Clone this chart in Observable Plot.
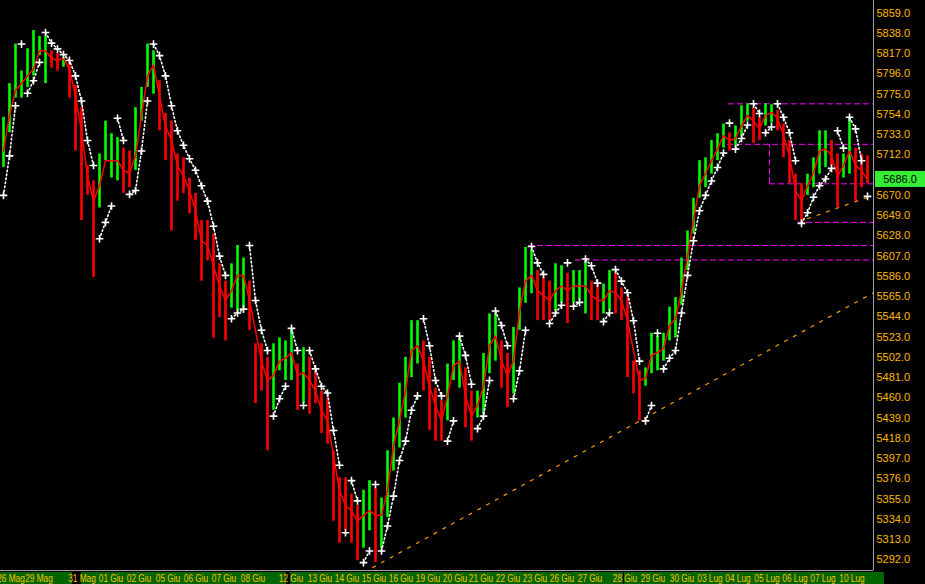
<!DOCTYPE html>
<html><head><meta charset="utf-8">
<script src="https://cdn.jsdelivr.net/npm/d3@7"></script>
<script src="https://cdn.jsdelivr.net/npm/@observablehq/plot@0.6"></script>
<style>
html,body{margin:0;padding:0;background:#000;}
#chart{width:925px;height:584px;overflow:hidden;background:#000;}
</style></head><body><div id="chart"></div>
<script>
// ---- data (prices, one entry per ~6px slot) ----
const highs = [5751,5786,5827,5799,5822,5841,5835,5835,5820,5818,
5813,5808,5784,5761,5701,5685,5713,5747,5734,5730,
5719,5716,5761,5782,5827,5820,5789,5755,5747,5713,
5709,5688,5672,5644,5644,5630,5599,5581,5599,5618,
5605,5581,5516,5516,5502,5516,5522,5519,5530,5495,
5512,5502,5488,5467,5460,5405,5377,5377,5360,5348,
5364,5374,5366,5356,5405,5439,5475,5502,5540,5540,
5519,5502,5470,5457,5495,5519,5522,5491,5467,5467,
5506,5547,5547,5519,5506,5533,5574,5616,5613,5592,
5585,5581,5599,5597,5589,5592,5592,5602,5581,5578,
5578,5592,5589,5574,5564,5498,5488,5491,5527,5524,
5527,5554,5564,5605,5633,5667,5706,5709,5727,5734,
5744,5735,5742,5763,5765,5761,5751,5765,5764,5758,
5744,5727,5692,5682,5692,5709,5737,5737,5727,5713,
5713,5750,5719,5713,5711];
const lows = [5699,5735,5771,5771,5782,5794,5815,5786,5802,5799,
5803,5771,5716,5644,5670,5585,5657,5706,5688,5685,
5672,5678,5696,5747,5782,5775,5737,5706,5633,5664,
5672,5651,5623,5581,5602,5522,5543,5519,5553,5550,
5553,5530,5454,5467,5405,5447,5488,5478,5478,5447,
5454,5443,5454,5423,5412,5332,5309,5322,5309,5291,
5304,5322,5289,5304,5336,5384,5408,5439,5481,5495,
5467,5426,5415,5415,5436,5478,5470,5429,5415,5439,
5443,5485,5498,5470,5450,5464,5530,5558,5568,5540,
5540,5540,5550,5558,5537,5558,5561,5547,5540,5540,
5547,5550,5547,5540,5481,5464,5436,5472,5485,5488,
5498,5519,5522,5556,5592,5630,5667,5678,5692,5706,
5719,5716,5721,5732,5747,5724,5727,5742,5745,5737,
5709,5682,5644,5642,5670,5678,5692,5699,5701,5657,
5688,5692,5664,5678,5682];
const closes = [5716,5753,5779,5786,5794,5801,5820,5820,5812,5810,
5812,5801,5773,5737,5690,5664,5680,5706,5706,5706,
5696,5693,5711,5753,5794,5805,5773,5742,5727,5701,
5690,5675,5654,5623,5618,5597,5576,5561,5571,5587,
5587,5561,5530,5498,5478,5483,5498,5501,5507,5483,
5486,5478,5467,5447,5436,5400,5364,5348,5343,5332,
5338,5343,5338,5338,5364,5410,5436,5467,5509,5514,
5498,5472,5452,5436,5462,5493,5498,5462,5441,5452,
5472,5514,5524,5498,5483,5498,5550,5581,5587,5571,
5566,5561,5571,5576,5571,5576,5576,5576,5566,5561,
5561,5571,5569,5561,5540,5509,5478,5480,5504,5507,
5511,5535,5542,5571,5607,5644,5680,5693,5706,5718,
5732,5727,5729,5742,5753,5747,5739,5753,5756,5750,
5732,5711,5675,5664,5680,5693,5716,5718,5711,5690,
5701,5716,5701,5696,5686];
const sar = [5670,5711,5763,5827,5776,5789,5808,5839,5828,5822,
5816,5810,5794,5768,5727,5701,5625,5642,5659,5750,
5727,5671,5675,5716,5768,5827,5815,5794,5763,5737,
5722,5708,5696,5680,5664,5638,5607,5587,5542,5548,
5552,5618,5561,5530,5509,5441,5459,5472,5532,5509,
5452,5509,5490,5472,5465,5426,5390,5320,5374,5353,
5289,5301,5370,5301,5327,5358,5395,5415,5447,5462,
5542,5514,5478,5462,5415,5436,5524,5504,5474,5428,
5441,5478,5550,5535,5514,5459,5488,5530,5617,5600,
5588,5537,5548,5556,5600,5555,5559,5604,5597,5579,
5539,5548,5593,5581,5569,5540,5498,5436,5452,5527,
5490,5501,5509,5548,5587,5623,5654,5670,5685,5699,
5714,5745,5718,5729,5743,5765,5755,5735,5741,5765,
5751,5735,5706,5641,5652,5668,5680,5687,5698,5737,
5719,5751,5739,5706,5669];
const lastPrice = 5686.0;
// 5691 is hidden behind the last-price box in the reference
const priceTicks = [5292,5313,5334,5355,5376,5397,5418,5439,5460,5481,5502,5523,5544,5565,
5586,5607,5628,5649,5670,5712,5733,5754,5775,5796,5817,5838,5859];
const dayLabels = ["25 Mag","26 Mag","29 Mag","31 Mag","01 Giu","02 Giu","05 Giu","06 Giu","07 Giu","08 Giu",
"12 Giu","13 Giu","14 Giu","15 Giu","16 Giu","19 Giu","20 Giu","21 Giu","22 Giu","23 Giu","26 Giu","27 Giu",
"28 Giu","29 Giu","30 Giu","03 Lug","04 Lug","05 Lug","06 Lug","07 Lug","10 Lug"];
const dayStarts = [-2.83,1.83,6.5,13.67,18.5,23.17,28,32.67,37.33,42.17,
48.5,53.33,57.83,62.33,66.83,71.33,75.83,80.17,84.67,89.17,93.67,98.33,
104.17,108.83,113.67,118.33,123,127.83,132.5,137.17,142];
const levelPrices = [5765,5723,5682,5642,5618,5603];
const levelStarts = [121.33,121.17,128.17,132.83,88,95.83];
const boxEdge = [128.17, 5682, 5723];
const trendStartX = [61.95,134.45], trendStartY = [5283.6,5645.7];
const trendEndX = [145.45,145], trendEndY = [5568.9,5669.1];

// ---- tables built from the arrays ----
const xEnd = 145.5;
const bars = highs.map((h,i)=>({x:i+0.5,h,l:lows[i],c:closes[i],
  col:(i===0||closes[i]>=closes[i-1])?"#00ff00":"#ff0000"}));
let seg=0, prevSide=null;
const sarRows = sar.map((s,i)=>{
  const side = s > (highs[i]+lows[i])/2 ? "a" : "b";
  if (i>0 && (side!==prevSide || (side==="a" && s>sar[i-1]) || (side==="b" && s<sar[i-1]))) seg++;
  prevSide = side;
  return {x:i+0.5, y:s, seg};
});
const levels = levelPrices.map((p,i)=>({p,x1:levelStarts[i]}));
const trends = trendStartX.map((x,i)=>({x1:x,y1:trendStartY[i],x2:trendEndX[i],y2:trendEndY[i]}));

const plot = Plot.plot({
  width:925, height:584,
  marginLeft:0, marginRight:52, marginTop:0, marginBottom:14,
  style:{background:"#000", color:"#ffb800", fontFamily:"Liberation Sans, Arial, sans-serif", fontSize:"11px"},
  x:{domain:[0,xEnd], axis:null},
  y:{domain:[5280.8,5872.2], axis:null},
  color:{type:"identity"},
  marks:[
    Plot.ruleY(levels,{y:"p",x1:"x1",x2:xEnd,stroke:"#ff00ff",strokeDasharray:"6,3"}),
    Plot.ruleX([boxEdge[0]],{x:d=>d,y1:boxEdge[1],y2:boxEdge[2],stroke:"#ff00ff",strokeDasharray:"6,3"}),
    Plot.link(trends,{x1:"x1",y1:"y1",x2:"x2",y2:"y2",stroke:"#ff9a00",strokeDasharray:"4,6",strokeWidth:1.2}),
    Plot.ruleX(bars,{x:"x",y1:"l",y2:"h",stroke:"col",strokeWidth:2.6}),
    Plot.line(bars,{x:"x",y:"c",stroke:"#ff0000",strokeWidth:1.5}),
    Plot.line(sarRows,{x:"x",y:"y",z:"seg",stroke:"#fff",strokeWidth:1.6,strokeDasharray:"1.5,2.5"}),
    Plot.dot(sarRows,{x:"x",y:"y",symbol:"plus",stroke:"#fff",fill:"none",strokeWidth:1.6,r:2.6}),
    Plot.ruleX([xEnd],{stroke:"#a0a0a0"}),
    Plot.ruleY([5280.8],{stroke:"#a0a0a0"}),
    Plot.axisY(priceTicks,{anchor:"right",tickSize:0,tickPadding:3,tickFormat:d=>d.toFixed(1),fill:"#ffb800",fontSize:11,textAnchor:"start"})
  ]
});
document.getElementById("chart").append(plot);

// ---- margin decorations placed with Plot's scales ----
const xs = plot.scale("x"), ysc = plot.scale("y");
const svg = d3.select(plot);
const bottom = ysc.apply(5280.8);
const g = svg.append("g");
dayLabels.forEach((lab,i)=>{
  const x0 = xs.apply(dayStarts[i]);
  const next = i<dayLabels.length-1 ? xs.apply(dayStarts[i+1]) : x0+33;
  const x1 = Math.min(next, x0+34);
  g.append("rect").attr("x",x0-1).attr("y",bottom+2).attr("width",x1-x0).attr("height",584-bottom-2).attr("fill","#006600");
  g.append("text").attr("transform",`translate(${x0},${bottom+11.8}) scale(0.72,1)`).attr("fill","#ffc000")
    .attr("font-family","Liberation Sans, Arial, sans-serif").attr("font-size","11.5px").text(lab);
});
const px = xs.apply(xEnd)+2, py = ysc.apply(lastPrice);
svg.append("rect").attr("x",px).attr("y",py-8.5).attr("width",925-px).attr("height",16).attr("fill","#33ee33");
svg.append("text").attr("x",px+25).attr("y",py).attr("dy","0.35em").attr("text-anchor","middle")
  .attr("fill","#000").attr("font-family","Liberation Sans, Arial, sans-serif").attr("font-size","11px").text(lastPrice.toFixed(1));
</script></body></html>
